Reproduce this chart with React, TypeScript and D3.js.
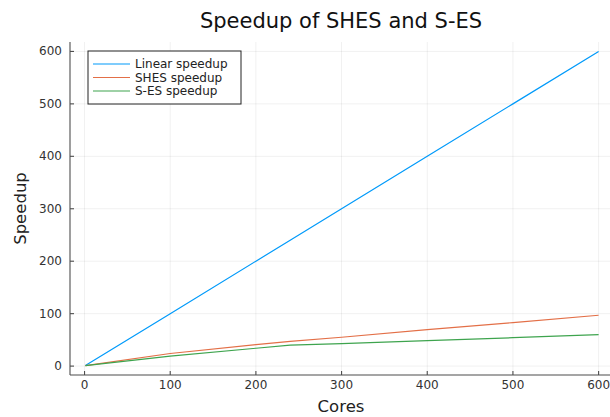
import React, { useEffect, useRef } from 'react';
import * as d3 from 'd3';

const cores = [1, 100, 200, 240, 300, 400, 500, 600];
const linearSpeedup = [1, 100, 200, 240, 300, 400, 500, 600];
const shesSpeedup = [1, 24, 41, 47, 55, 69.5, 83, 97];
const sesSpeedup = [1, 19, 34, 40, 43, 48.5, 54.2, 60];
const seriesNames = ['Linear speedup', 'SHES speedup', 'S-ES speedup'];
const seriesColors = ['#009AFA', '#E36F47', '#3EA44E'];
const xTicks = [0, 100, 200, 300, 400, 500, 600];
const yTicks = [0, 100, 200, 300, 400, 500, 600];

const W = 610;
const H = 417;
const FONT = 'DejaVu Sans, sans-serif';

const App: React.FC = () => {
  const svgRef = useRef<SVGSVGElement>(null);

  useEffect(() => {
    if (!svgRef.current) return;
    const svg = d3.select(svgRef.current);
    svg.selectAll('*').remove();

    const left = 70;
    const right = 614;
    const top = 42;
    const bottom = 375;

    // Plots.jl-style 3% padding around data range
    const x = d3.scaleLinear().domain([-16.97, 617.97]).range([left, right]);
    const y = d3.scaleLinear().domain([-16.97, 617.97]).range([bottom, top]);

    svg.append('rect').attr('width', W).attr('height', H).attr('fill', '#fff');

    // grid
    const grid = svg.append('g').attr('stroke', '#000').attr('stroke-opacity', 0.08).attr('stroke-width', 0.8);
    xTicks.forEach(t => {
      grid.append('line').attr('x1', x(t)).attr('x2', x(t)).attr('y1', top).attr('y2', bottom);
    });
    yTicks.forEach(t => {
      grid.append('line').attr('x1', left).attr('x2', right).attr('y1', y(t)).attr('y2', y(t));
    });

    // axes frame
    const axis = svg.append('g').attr('stroke', '#4d4d4d').attr('stroke-width', 1.1);
    axis.append('line').attr('x1', left).attr('x2', left).attr('y1', top).attr('y2', bottom);
    axis.append('line').attr('x1', left).attr('x2', right).attr('y1', bottom).attr('y2', bottom);
    xTicks.forEach(t => {
      axis.append('line').attr('x1', x(t)).attr('x2', x(t)).attr('y1', bottom).attr('y2', bottom - 4);
    });
    yTicks.forEach(t => {
      axis.append('line').attr('x1', left).attr('x2', left + 4).attr('y1', y(t)).attr('y2', y(t));
    });

    // tick labels
    svg.append('g').selectAll('text').data(xTicks).enter().append('text')
      .attr('x', d => x(d))
      .attr('y', bottom + 14)
      .attr('text-anchor', 'middle')
      .style('font-family', FONT)
      .style('font-size', '12px')
      .style('fill', '#333')
      .text(d => `${d}`);

    svg.append('g').selectAll('text').data(yTicks).enter().append('text')
      .attr('x', left - 8)
      .attr('y', d => y(d))
      .attr('text-anchor', 'end')
      .attr('dominant-baseline', 'central')
      .style('font-family', FONT)
      .style('font-size', '12px')
      .style('fill', '#333')
      .text(d => `${d}`);

    // series
    const line = d3.line<number>()
      .x((_, i) => x(cores[i]))
      .y(d => y(d));
    [linearSpeedup, shesSpeedup, sesSpeedup].forEach((vals, i) => {
      svg.append('path')
        .attr('d', line(vals) || '')
        .attr('fill', 'none')
        .attr('stroke', seriesColors[i])
        .attr('stroke-width', 1.2);
    });

    // title and labels
    svg.append('text')
      .attr('x', 341)
      .attr('y', 28)
      .attr('text-anchor', 'middle')
      .style('font-family', FONT)
      .style('font-size', '21px')
      .style('fill', '#111')
      .text('Speedup of SHES and S-ES');

    svg.append('text')
      .attr('x', 341)
      .attr('y', 412)
      .attr('text-anchor', 'middle')
      .style('font-family', FONT)
      .style('font-size', '16.5px')
      .style('fill', '#222')
      .text('Cores');

    svg.append('text')
      .attr('transform', `translate(26,${(top + bottom) / 2}) rotate(-90)`)
      .attr('text-anchor', 'middle')
      .style('font-family', FONT)
      .style('font-size', '16.5px')
      .style('fill', '#222')
      .text('Speedup');

    // legend
    const legend = svg.append('g').attr('transform', 'translate(88,51)');
    legend.append('rect')
      .attr('width', 153)
      .attr('height', 53)
      .attr('fill', '#fff')
      .attr('stroke', '#222')
      .attr('stroke-width', 1);
    seriesNames.forEach((name, i) => {
      const ry = 13 + i * 13.5;
      legend.append('line')
        .attr('x1', 5).attr('x2', 42)
        .attr('y1', ry).attr('y2', ry)
        .attr('stroke', seriesColors[i])
        .attr('stroke-width', 1.2);
      legend.append('text')
        .attr('x', 47)
        .attr('y', ry)
        .attr('dominant-baseline', 'central')
        .style('font-family', FONT)
        .style('font-size', '12px')
        .style('fill', '#222')
        .text(name);
    });
  }, []);

  return (
    <svg
      ref={svgRef}
      width={W}
      height={H}
      style={{ position: 'absolute', left: 0, top: 0, display: 'block' }}
    />
  );
};

export default App;
